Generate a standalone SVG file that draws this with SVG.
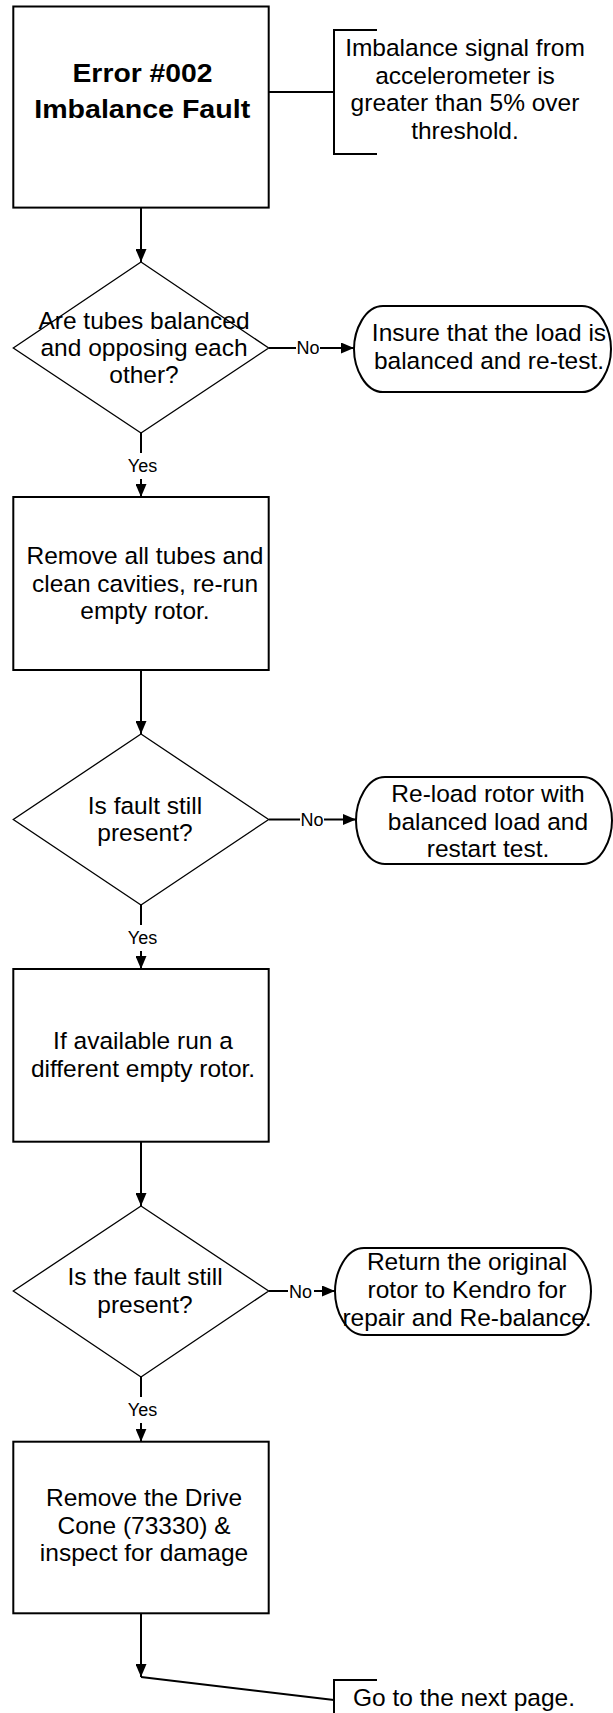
<svg xmlns="http://www.w3.org/2000/svg" width="613" height="1713" viewBox="0 0 613 1713">
  <defs>
    <marker id="arr" viewBox="0 0 13 11" refX="13" refY="5.5" markerWidth="13" markerHeight="11" markerUnits="userSpaceOnUse" orient="auto">
      <path d="M0,0 L13,5.5 L0,11 Z" fill="#000"/>
    </marker>
    <style>
      .box{fill:#fff;stroke:#000;stroke-width:2}
      .dia{fill:#fff;stroke:#000;stroke-width:1.3}
      .term{fill:#fff;stroke:#000;stroke-width:2}
      .conn{fill:none;stroke:#000;stroke-width:2}
      .t{font-family:"Liberation Sans",Arial,sans-serif;font-size:24.5px;text-anchor:middle;fill:#000}
      .title{font-weight:bold;font-size:25px}
      .lbl{font-size:18px}
      .bg{fill:#fff}
    </style>
  </defs>
  <rect width="613" height="1713" fill="#fff"/>

  <g id="connectors">
    <line class="conn" x1="269" y1="92" x2="334" y2="92"/>
    <path class="conn" d="M141,207.6 V262" marker-end="url(#arr)"/>
    <path class="conn" d="M269,348 H354" marker-end="url(#arr)"/>
    <path class="conn" d="M141,433 V497" marker-end="url(#arr)"/>
    <path class="conn" d="M141,670 V734" marker-end="url(#arr)"/>
    <path class="conn" d="M269,819.5 H356" marker-end="url(#arr)"/>
    <path class="conn" d="M141,905 V969" marker-end="url(#arr)"/>
    <path class="conn" d="M141,1141.7 V1206" marker-end="url(#arr)"/>
    <path class="conn" d="M269,1291 H335" marker-end="url(#arr)"/>
    <path class="conn" d="M141,1377 V1441.7" marker-end="url(#arr)"/>
    <path class="conn" d="M141,1613.3 V1677" marker-end="url(#arr)"/>
    <line class="conn" x1="141" y1="1677" x2="334" y2="1700"/>
    <rect class="bg" x="296" y="336" width="24" height="24"/>
    <text class="t lbl" x="308" y="354.4">No</text>
    <rect class="bg" x="300" y="807.5" width="24" height="24"/>
    <text class="t lbl" x="312" y="826">No</text>
    <rect class="bg" x="288" y="1279" width="26" height="24"/>
    <text class="t lbl" x="300.5" y="1297.5">No</text>
    <rect class="bg" x="124" y="453" width="38" height="26"/>
    <text class="t lbl" x="142.5" y="471.7">Yes</text>
    <rect class="bg" x="124" y="925" width="38" height="26"/>
    <text class="t lbl" x="142.5" y="943.7">Yes</text>
    <rect class="bg" x="124" y="1397" width="38" height="26"/>
    <text class="t lbl" x="142.5" y="1415.5">Yes</text>
  </g>

  <g id="n-error">
    <rect class="box" x="13.3" y="6.5" width="255.4" height="201.1"/>
    <text class="t title" x="142.5" y="81.7" textLength="140" lengthAdjust="spacingAndGlyphs">Error #002</text>
    <text class="t title" x="142.2" y="117.7" textLength="216" lengthAdjust="spacingAndGlyphs">Imbalance Fault</text>
  </g>

  <g id="n-note">
    <path class="conn" d="M377,30 H334 V154 H377"/>
    <text class="t" x="465" y="56">Imbalance signal from</text>
    <text class="t" x="465" y="83.5">accelerometer is</text>
    <text class="t" x="465" y="111">greater than 5% over</text>
    <text class="t" x="465" y="138.5">threshold.</text>
  </g>

  <g id="n-d1">
    <path class="dia" d="M141,262 L268.7,348 L141,433 L13.3,348 Z"/>
    <text class="t" x="144" y="329">Are tubes balanced</text>
    <text class="t" x="144" y="356">and opposing each</text>
    <text class="t" x="144" y="383">other?</text>
  </g>

  <g id="n-t1">
    <path class="term" d="M383,306 H582 C600,306 611,330 611,349 C611,368 600,392 582,392 H383 C365,392 354,368 354,349 C354,330 365,306 383,306 Z"/>
    <text class="t" x="489" y="341">Insure that the load is</text>
    <text class="t" x="489" y="368.5">balanced and re-test.</text>
  </g>

  <g id="n-b2">
    <rect class="box" x="13.3" y="497" width="255.4" height="173"/>
    <text class="t" x="145" y="564">Remove all tubes and</text>
    <text class="t" x="145" y="591.5">clean cavities, re-run</text>
    <text class="t" x="145" y="619">empty rotor.</text>
  </g>

  <g id="n-d2">
    <path class="dia" d="M141,734 L268.7,819.5 L141,905 L13.3,819.5 Z"/>
    <text class="t" x="145" y="813.5">Is fault still</text>
    <text class="t" x="145" y="841">present?</text>
  </g>

  <g id="n-t2">
    <path class="term" d="M385,777 H583 C601,777 612,801 612,820.5 C612,840 601,864 583,864 H385 C367,864 356,840 356,820.5 C356,801 367,777 385,777 Z"/>
    <text class="t" x="488" y="802">Re-load rotor with</text>
    <text class="t" x="488" y="829.5">balanced load and</text>
    <text class="t" x="488" y="857">restart test.</text>
  </g>

  <g id="n-b3">
    <rect class="box" x="13.3" y="969" width="255.4" height="172.7"/>
    <text class="t" x="143" y="1049">If available run a</text>
    <text class="t" x="143" y="1077">different empty rotor.</text>
  </g>

  <g id="n-d3">
    <path class="dia" d="M141,1206 L268.7,1291 L141,1377 L13.3,1291 Z"/>
    <text class="t" x="145" y="1285">Is the fault still</text>
    <text class="t" x="145" y="1312.5">present?</text>
  </g>

  <g id="n-t3">
    <path class="term" d="M364,1248 H562 C580,1248 591,1272 591,1291.5 C591,1311 580,1335 562,1335 H364 C346,1335 335,1311 335,1291.5 C335,1272 346,1248 364,1248 Z"/>
    <text class="t" x="467" y="1270">Return the original</text>
    <text class="t" x="467" y="1298">rotor to Kendro for</text>
    <text class="t" x="467" y="1326">repair and Re-balance.</text>
  </g>

  <g id="n-b4">
    <rect class="box" x="13.3" y="1441.7" width="255.4" height="171.6"/>
    <text class="t" x="144" y="1506">Remove the Drive</text>
    <text class="t" x="144" y="1533.5">Cone (73330) &amp;</text>
    <text class="t" x="144" y="1561">inspect for damage</text>
  </g>

  <g id="n-next">
    <path class="conn" d="M377,1680 H334 V1714"/>
    <text class="t" x="464" y="1706">Go to the next page.</text>
  </g>
</svg>
